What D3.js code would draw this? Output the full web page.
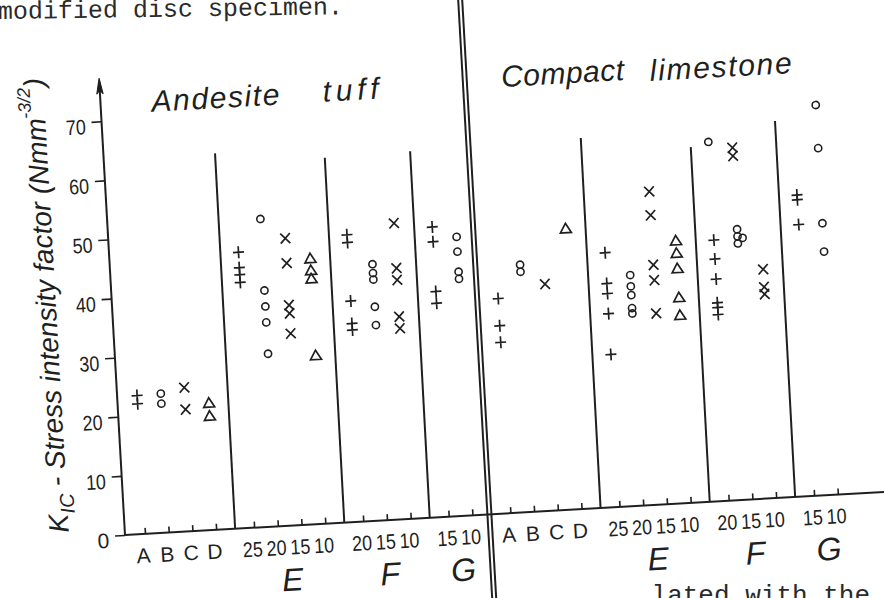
<!DOCTYPE html>
<html><head><meta charset="utf-8">
<script src="https://cdn.jsdelivr.net/npm/d3@7"></script>
<style>body{margin:0;background:#fff}svg{display:block}</style>
</head><body>
<svg id="chart" width="884" height="598"></svg>
<script>
// ---------- data ----------
const yTicks = [0, 10, 20, 30, 40, 50, 60, 70];
const tickLabels = ["A","B","C","D","25","20","15","10","20","15","10","15","10"];
const groupOf    = [0,0,0,0,1,1,1,1,2,2,2,3,3];
const groupNames = ["E","F","G"];
const columnMarker = ["plus","circle","cross","triangle","plus","circle","cross","triangle","plus","circle","cross","plus","circle"];
const panelTitles = [["Andesite","tuff"],["Compact","limestone"]];

// K_IC values per column (A, B, C, D, E25, E20, E15, E10, F20, F15, F10, G15, G10)
const tuffValues = [
  [23.4, 22.0],
  [23.5, 21.8],
  [24.3, 20.6],
  [21.5, 19.3],
  [46.6, 44.0, 42.8, 41.5],
  [52.0, 39.9, 37.2, 34.5, 29.2],
  [48.5, 44.3, 37.2, 35.8, 32.4],
  [44.9, 42.9, 41.5, 28.5],
  [48.5, 47.2, 37.3, 33.5, 32.4],
  [43.3, 41.8, 40.7, 36.1, 33.0],
  [50.0, 42.4, 40.4, 34.2, 32.2],
  [49.0, 46.5, 38.1, 36.1],
  [47.1, 44.6, 41.2, 40.0]
];
const limestoneValues = [
  [36.3, 31.7, 28.9],
  [41.8, 40.6],
  [38.3],
  [47.5],
  [43.0, 37.8, 36.1, 32.7, 25.8],
  [39.0, 37.1, 35.6, 33.4, 32.5],
  [52.9, 48.9, 40.5, 37.9, 32.3],
  [44.4, 42.3, 39.7, 34.8, 31.8],
  [44.1, 40.9, 37.5, 33.5, 32.7, 31.5],
  [45.7, 44.5, 44.2, 43.3],
  [38.7, 35.7, 34.5],
  [50.9, 50.1, 45.9],
  [65.9, 58.6, 45.9, 41.1]
];
// marks drawn with a marker other than the column's usual one: [column, marker, value]
const limestoneExtra = [
  [8, "circle", 60.7],
  [9, "cross", 59.5],
  [9, "cross", 58.1]
];
// heights of the dividing lines between the groups
const dividerTops = [[63.5, 61.7, 62.0], [62.6, 60.0, 63.6]];
const yLabelParts = ["K", "IC", " - Stress intensity factor (Nmm", "-3/2", ")"];
const topText = "modified disc specimen.";
const bottomText = "lated with the";

// ---------- drawing ----------
const ink = "#1f1f1f";
const svg = d3.select("#chart");

svg.append("text").attr("x", -2).attr("y", 19)
  .attr("transform", "rotate(-0.8,0,19)")
  .attr("font-family", "Liberation Mono").attr("font-size", 25).attr("fill", "#2a2a2a")
  .text(topText);
svg.append("text").attr("x", 870).attr("y", 603).attr("text-anchor", "end")
  .attr("font-family", "Liberation Mono").attr("font-size", 26).attr("fill", "#2a2a2a")
  .text(bottomText);

const g = svg.append("g").attr("transform", "translate(125,535) rotate(-3.25)");

const y = d3.scaleLinear().domain([0, 70]).range([0, -414.4]);
const x = d3.scaleLinear().domain([0, 29.2]).range([20, 714]);
const panelOffset = 15.4, groupGap = 0.6;
const slot = (p, i) => p * panelOffset + i + groupOf[i] * groupGap;

function narrow(sel) {
  sel.each(function () {
    const t = d3.select(this);
    if (t.text().length === 2) t.attr("textLength", 20).attr("lengthAdjust", "spacingAndGlyphs");
  });
}

// y axis
const yAxis = d3.axisLeft(y).tickValues(yTicks).tickSize(10).tickPadding(6).tickFormat(d3.format("d"));
const ya = g.append("g").call(yAxis);
ya.select(".domain").remove();
ya.selectAll("line").attr("stroke", ink).attr("stroke-width", 1.6);
ya.selectAll("text").attr("font-family", "Liberation Sans").attr("font-size", 21)
  .attr("fill", ink).attr("dy", "0.55em").call(narrow);

const tip = y(77.3);
g.append("line").attr("x1", 0).attr("y1", 0).attr("x2", 0).attr("y2", tip + 4)
  .attr("stroke", ink).attr("stroke-width", 2);
g.append("path").attr("d", `M0,${tip}L-3.2,${tip + 16}L0,${tip + 12}L3.2,${tip + 16}Z`)
  .attr("fill", ink).attr("stroke", ink).attr("stroke-width", 1);

// x axis line
g.append("line").attr("x1", 0).attr("y1", 0).attr("x2", 820).attr("y2", 0)
  .attr("stroke", ink).attr("stroke-width", 2);

// x ticks & labels
const allSlots = [], labelOf = new Map();
[0, 1].forEach(p => tickLabels.forEach((t, i) => { const s = slot(p, i); allSlots.push(s); labelOf.set(s, t); }));
const xAxis = d3.axisBottom(x).tickValues(allSlots).tickSize(-6).tickPadding(14).tickFormat(d => labelOf.get(d));
const xa = g.append("g").call(xAxis);
xa.select(".domain").remove();
xa.selectAll("line").attr("stroke", ink).attr("stroke-width", 1.6);
xa.selectAll("text").attr("font-family", "Liberation Sans").attr("font-size", 21)
  .attr("fill", ink).attr("x", -3).call(narrow);

// group names
[0, 1].forEach(p => {
  groupNames.forEach((name, k) => {
    const idx = groupOf.map((gq, i) => gq === k + 1 ? i : -1).filter(i => i >= 0);
    const cx = d3.mean(idx, i => x(slot(p, i)));
    g.append("text").attr("x", cx).attr("y", 65).attr("text-anchor", "middle")
      .attr("font-family", "Liberation Sans").attr("font-style", "italic").attr("font-size", 32)
      .attr("fill", ink).text(name);
  });
});

// dividers
[0, 1].forEach(p => {
  const seps = [3.8, 8.4, 12.0];
  seps.forEach((s, k) => {
    const xx = x(p * panelOffset + s);
    g.append("line").attr("x1", xx).attr("y1", 0).attr("x2", xx + 1.2).attr("y2", y(dividerTops[p][k]))
      .attr("stroke", ink).attr("stroke-width", 2);
  });
});
// double line between the two rocks
const dx0 = x(14.6) - 2;
[-2, 2].forEach(o => {
  g.append("line").attr("x1", dx0 + o).attr("y1", 90).attr("x2", dx0 + o).attr("y2", -600)
    .attr("stroke", ink).attr("stroke-width", 2);
});

// titles
const titleSpec = [[[51, -421, 128], [222.5, -421.4, 56]], [[401.5, -426, 123], [550.2, -423.5, 142]]];
panelTitles.forEach((words, p) => {
  words.forEach((w, k) => {
    const [tx, ty, len] = titleSpec[p][k];
    g.append("text").attr("x", tx).attr("y", ty)
      .attr("textLength", len).attr("lengthAdjust", "spacing")
      .attr("font-family", "Liberation Sans").attr("font-style", "italic").attr("font-size", 30)
      .attr("fill", ink).text(w);
  });
});

// y label
const yl = g.append("text").attr("transform", "translate(-56,-6) rotate(-90)")
  .attr("font-family", "Liberation Sans").attr("font-style", "italic").attr("font-size", 28)
  .attr("fill", ink);
yl.append("tspan").text(yLabelParts[0]);
yl.append("tspan").attr("font-size", 20).attr("dy", 7).text(yLabelParts[1]);
yl.append("tspan").attr("dy", -7).text(yLabelParts[2]);
yl.append("tspan").attr("font-size", 18).attr("dy", -14).text(yLabelParts[3]);
yl.append("tspan").attr("dy", 14).text(yLabelParts[4]);

// markers
const markerPath = {
  plus: "M-5.5,0H5.5M0,-6V6",
  cross: "M-4.8,-5L4.8,5M-4.8,5L4.8,-5",
  triangle: "M0,-5L5.5,4.4L-5.5,4.4Z"
};
function drawMarker(type, cx, cy) {
  if (type === "circle") {
    g.append("circle").attr("cx", cx).attr("cy", cy).attr("r", 3.6)
      .attr("fill", "none").attr("stroke", ink).attr("stroke-width", 1.6);
  } else {
    g.append("path").attr("d", markerPath[type]).attr("transform", `translate(${cx},${cy})`)
      .attr("fill", "none").attr("stroke", ink).attr("stroke-width", 1.7);
  }
}
[tuffValues, limestoneValues].forEach((cols, p) => {
  cols.forEach((vals, i) => {
    const placed = [];
    vals.forEach(v => {
      const near = placed.some(q => Math.abs(q - v) < 0.6);
      placed.push(v);
      drawMarker(columnMarker[i], x(slot(p, i)) + (near ? 5 : 0), y(v));
    });
  });
});
limestoneExtra.forEach(([i, m, v]) => drawMarker(m, x(slot(1, i)), y(v)));
</script>
</body></html>
